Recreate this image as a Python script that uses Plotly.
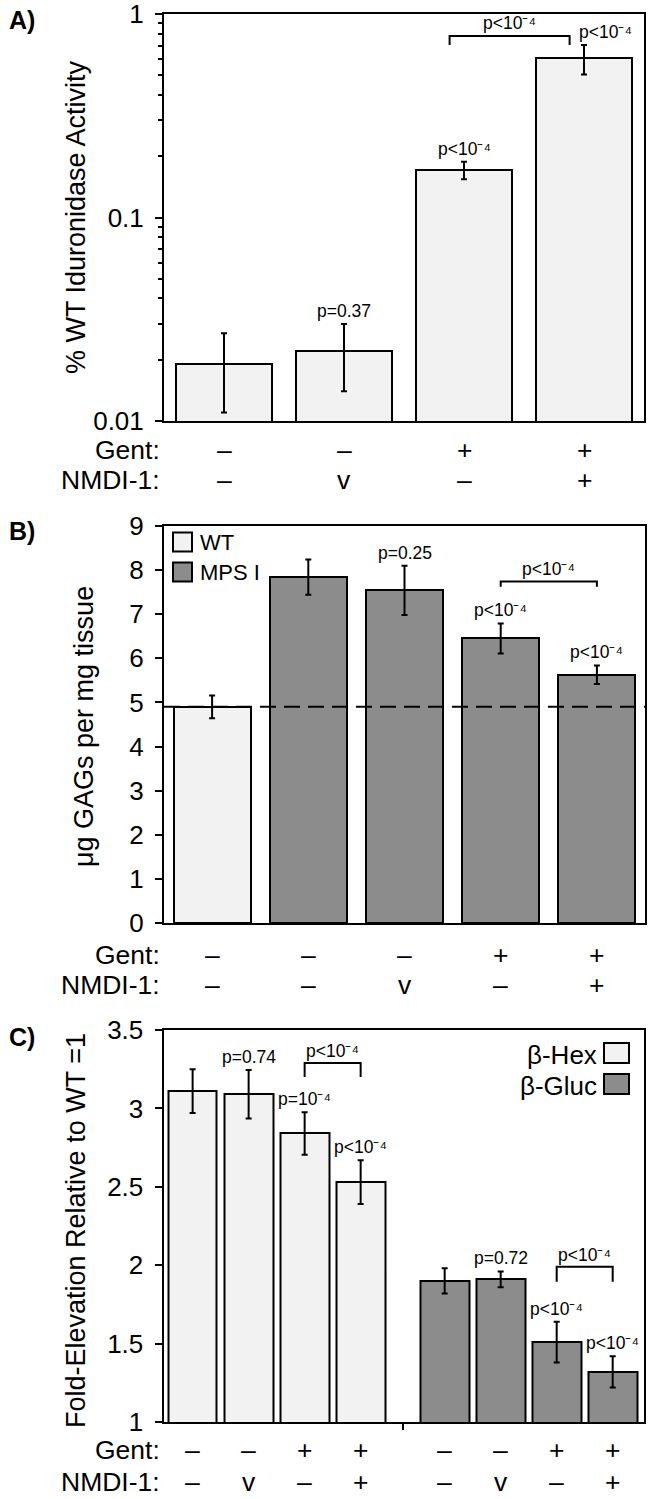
import math
import plotly.graph_objects as go

# Figure fills the 652x1499 window exactly (page margin removed in post_script).
W, H = 652, 1499

P4 = "p<10⁻⁴"

# ---------------- data ----------------
# Panel A: % WT iduronidase activity (log scale)
a_x = [0, 1, 2, 3]
a_vals = [0.019, 0.022, 0.171, 0.605]
a_err = [0.008, 0.008, 0.017, 0.10]
a_gent = ["–", "–", "+", "+"]
a_nmdi = ["–", "v", "–", "+"]
a_p = [None, "p=0.37", P4, P4]
a_bracket = (1.88, 2.88, 0.78, 0.705, 0.80, P4)

# Panel B: ug GAGs per mg tissue
b_x = [0, 1, 2, 3, 4]
b_vals = [4.90, 7.84, 7.54, 6.45, 5.63]
b_err = [0.26, 0.40, 0.56, 0.34, 0.21]
b_group = ["WT", "MPS I", "MPS I", "MPS I", "MPS I"]
b_gent = ["–", "–", "–", "+", "+"]
b_nmdi = ["–", "–", "v", "–", "+"]
b_p = [None, None, "p=0.25", P4, P4]
b_bracket = (3, 4, 7.74, 7.62, 7.76, P4)

# Panel C: fold elevation relative to WT
hex_x = [0, 1, 2, 3]
hex_vals = [3.11, 3.09, 2.84, 2.53]
hex_err = [0.14, 0.155, 0.135, 0.14]
hex_p = [None, "p=0.74", "p=10⁻⁴", P4]
gluc_x = [4.5, 5.5, 6.5, 7.5]
gluc_vals = [1.90, 1.91, 1.51, 1.32]
gluc_err = [0.08, 0.05, 0.13, 0.10]
gluc_p = [None, "p=0.72", P4, P4]
c_gent = ["–", "–", "+", "+", "–", "–", "+", "+"]
c_nmdi = ["–", "v", "–", "+", "–", "v", "–", "+"]
hex_bracket = (2, 3, 3.29, 3.20, 3.29, P4)
gluc_bracket = (6.5, 7.5, 1.99, 1.895, 1.99, P4)

LIGHT = "#f2f2f2"
DARK = "#8c8c8c"
group_color = {"WT": LIGHT, "MPS I": DARK}

FONT = "Arial, Liberation Sans, Helvetica, sans-serif"
TICK_SIZE = 26
ROW_SIZE = 26.5
P_SIZE = 17.5
TITLE_SIZE = 27


def px(x):
    """pixel x -> paper fraction"""
    return x / W


def py(y):
    """pixel y -> paper fraction"""
    return 1 - y / H


fig = go.Figure()

err_style = dict(type="data", color="black", thickness=2, width=3)
bar_line = dict(color="black", width=2)

fig.add_trace(go.Bar(x=a_x, y=a_vals, width=0.8, xaxis="x", yaxis="y",
                     marker=dict(color=LIGHT, line=bar_line),
                     error_y=dict(array=a_err, **err_style), showlegend=False))
fig.add_trace(go.Bar(x=b_x, y=b_vals, width=0.8, xaxis="x2", yaxis="y2",
                     marker=dict(color=[group_color[g] for g in b_group], line=bar_line),
                     error_y=dict(array=b_err, **err_style), showlegend=False))
fig.add_trace(go.Bar(x=hex_x, y=hex_vals, width=0.87, xaxis="x3", yaxis="y3",
                     marker=dict(color=LIGHT, line=bar_line),
                     error_y=dict(array=hex_err, **err_style), showlegend=False))
fig.add_trace(go.Bar(x=gluc_x, y=gluc_vals, width=0.87, xaxis="x3", yaxis="y3",
                     marker=dict(color=DARK, line=bar_line),
                     error_y=dict(array=gluc_err, **err_style), showlegend=False))

axis_common = dict(showline=True, linecolor="black", linewidth=2, mirror=True,
                   showgrid=False, zeroline=False, automargin=False)
ytick_common = dict(ticks="outside", ticklen=7, tickwidth=2, tickcolor="black",
                    ticklabelstandoff=6, ticklabeloverflow="allow",
                    tickfont=dict(size=TICK_SIZE, color="black", family=FONT))

fig.update_layout(
    width=W, height=H,
    margin=dict(l=0, r=0, t=0, b=0, autoexpand=False),
    plot_bgcolor="white", paper_bgcolor="white",
    font=dict(family=FONT, color="black"),
    bargap=0,
    xaxis=dict(domain=[px(164), px(644)], anchor="y", range=[-0.5, 3.5],
               showticklabels=False, ticks="", **axis_common),
    yaxis=dict(domain=[py(421), py(14)], anchor="x", type="log", range=[-2, 0],
               tickvals=[0.01, 0.1, 1], ticktext=["0.01", "0.1", "1"],
               minor=dict(ticks="outside", ticklen=4, tickwidth=1.5, tickcolor="black",
                          dtick="D1", showgrid=False),
               **ytick_common, **axis_common),
    xaxis2=dict(domain=[px(164), px(645)], anchor="y2", range=[-0.5, 4.5],
                showticklabels=False, ticks="", **axis_common),
    yaxis2=dict(domain=[py(923), py(526)], anchor="x2", range=[0, 9], dtick=1,
                **ytick_common, **axis_common),
    xaxis3=dict(domain=[px(163.5), px(643.5)], anchor="y3", range=[-0.52, 8.05],
                tickvals=[3.75], ticks="outside", ticklen=6, tickwidth=2, tickcolor="black",
                showticklabels=False, **axis_common),
    yaxis3=dict(domain=[py(1422), py(1030)], anchor="x3", range=[1, 3.5], dtick=0.5,
                **ytick_common, **axis_common),
)

ann = []
shapes = []


def p_label(text, x, y, xref, yref, xshift=0, yshift=4):
    ann.append(dict(text=text, x=x, y=y, xref=xref, yref=yref, showarrow=False,
                    xanchor="center", yanchor="bottom", xshift=xshift, yshift=yshift,
                    font=dict(size=P_SIZE, color="black", family=FONT)))


def bracket(b, xref, yref):
    x0, x1, ytop, yend, ylab, text = b
    shapes.append(dict(type="path", xref=xref, yref=yref,
                       path=f"M {x0},{yend} L {x0},{ytop} L {x1},{ytop} L {x1},{yend}",
                       line=dict(color="black", width=2)))
    ann.append(dict(text=text, x=(x0 + x1) / 2, y=ylab, xref=xref, yref=yref,
                    showarrow=False, xanchor="center", yanchor="bottom",
                    font=dict(size=P_SIZE, color="black", family=FONT)))


# Panel A labels (annotations on log axis use log10)
for i, t in enumerate(a_p):
    if t:
        xs = 21 if i == 3 else 0
        p_label(t, a_x[i], math.log10(a_vals[i] + a_err[i]), "x", "y", xshift=xs, yshift=1)
x0, x1, ytop, yend, ylab, text = a_bracket
shapes.append(dict(type="path", xref="x", yref="y",
                   path=f"M {x0},{yend} L {x0},{ytop} L {x1},{ytop} L {x1},{yend}",
                   line=dict(color="black", width=2)))
ann.append(dict(text=text, x=(x0 + x1) / 2, y=math.log10(ylab), xref="x", yref="y",
                showarrow=False, xanchor="center", yanchor="bottom", yshift=-1,
                font=dict(size=P_SIZE, color="black", family=FONT)))

# Panel B labels
for i, t in enumerate(b_p):
    if t:
        p_label(t, b_x[i], b_vals[i] + b_err[i], "x2", "y2", yshift=1)
bracket(b_bracket, "x2", "y2")
# dashed WT reference line
shapes.append(dict(type="line", xref="x2 domain", yref="y2", x0=0, x1=1,
                   y0=b_vals[0], y1=b_vals[0],
                   line=dict(color="black", width=2, dash="16px,8px")))

# Panel C labels
for i, t in enumerate(hex_p):
    if t:
        p_label(t, hex_x[i], hex_vals[i] + hex_err[i], "x3", "y3", yshift=1)
for i, t in enumerate(gluc_p):
    if t:
        p_label(t, gluc_x[i], gluc_vals[i] + gluc_err[i], "x3", "y3", yshift=1)
bracket(hex_bracket, "x3", "y3")
bracket(gluc_bracket, "x3", "y3")


# treatment rows
def rows(xs, gent, nmdi, xref, y_gent, y_nmdi, label_x):
    for lab, yy in (("Gent:", y_gent), ("NMDI-1:", y_nmdi)):
        ann.append(dict(text=lab, x=px(label_x), y=py(yy), xref="paper", yref="paper",
                        showarrow=False, xanchor="right", yanchor="middle",
                        font=dict(size=ROW_SIZE, color="black", family=FONT)))
    for xv, g, n in zip(xs, gent, nmdi):
        for t, yy in ((g, y_gent), (n, y_nmdi)):
            ann.append(dict(text=t, x=xv, y=py(yy), xref=xref, yref="paper",
                            showarrow=False, xanchor="center", yanchor="middle",
                            font=dict(size=ROW_SIZE, color="black", family=FONT)))


rows(a_x, a_gent, a_nmdi, "x", 450, 480, 162)
rows(b_x, b_gent, b_nmdi, "x2", 955, 985, 162)
rows(hex_x + gluc_x, c_gent, c_nmdi, "x3", 1450, 1482, 162)

# y-axis titles
for text, xc, yc in (("% WT Iduronidase Activity", 76, 217),
                     ("μg GAGs per mg tissue", 84, 727),
                     ("Fold-Elevation Relative to WT =1", 76, 1231)):
    ann.append(dict(text=text, x=px(xc), y=py(yc), xref="paper", yref="paper",
                    showarrow=False, textangle=-90, xanchor="center", yanchor="middle",
                    font=dict(size=TITLE_SIZE, color="black", family=FONT)))

# panel letters
for text, yc in (("A)", 20), ("B)", 531), ("C)", 1037)):
    ann.append(dict(text=f"<b>{text}</b>", x=px(7), y=py(yc), xref="paper", yref="paper",
                    showarrow=False, xanchor="left", yanchor="middle",
                    font=dict(size=25, color="black", family=FONT)))

# legend B (WT / MPS I)
for label, col, yc in (("WT", LIGHT, 542), ("MPS I", DARK, 572)):
    shapes.append(dict(type="rect", xref="paper", yref="paper",
                       x0=px(173), x1=px(192), y0=py(yc + 9.5), y1=py(yc - 9.5),
                       fillcolor=col, line=dict(color="black", width=2)))
    ann.append(dict(text=label, x=px(198), y=py(yc), xref="paper", yref="paper",
                    showarrow=False, xanchor="left", yanchor="middle",
                    font=dict(size=22, color="black", family=FONT)))

# legend C (beta-Hex / beta-Gluc), text left of swatch
for label, col, yc in (("β-Hex", LIGHT, 1053), ("β-Gluc", DARK, 1084)):
    shapes.append(dict(type="rect", xref="paper", yref="paper",
                       x0=px(604), x1=px(629), y0=py(yc + 10), y1=py(yc - 10),
                       fillcolor=col, line=dict(color="black", width=2)))
    ann.append(dict(text=label, x=px(599), y=py(yc + 2), xref="paper", yref="paper",
                    showarrow=False, xanchor="right", yanchor="middle",
                    font=dict(size=26, color="black", family=FONT)))

fig.update_layout(annotations=ann, shapes=shapes)
fig.write_html("out.html", config={"displayModeBar": False},
               post_script="document.documentElement.style.margin='0';"
                           "document.body.style.margin='0';"
                           "document.body.style.overflow='hidden';")
